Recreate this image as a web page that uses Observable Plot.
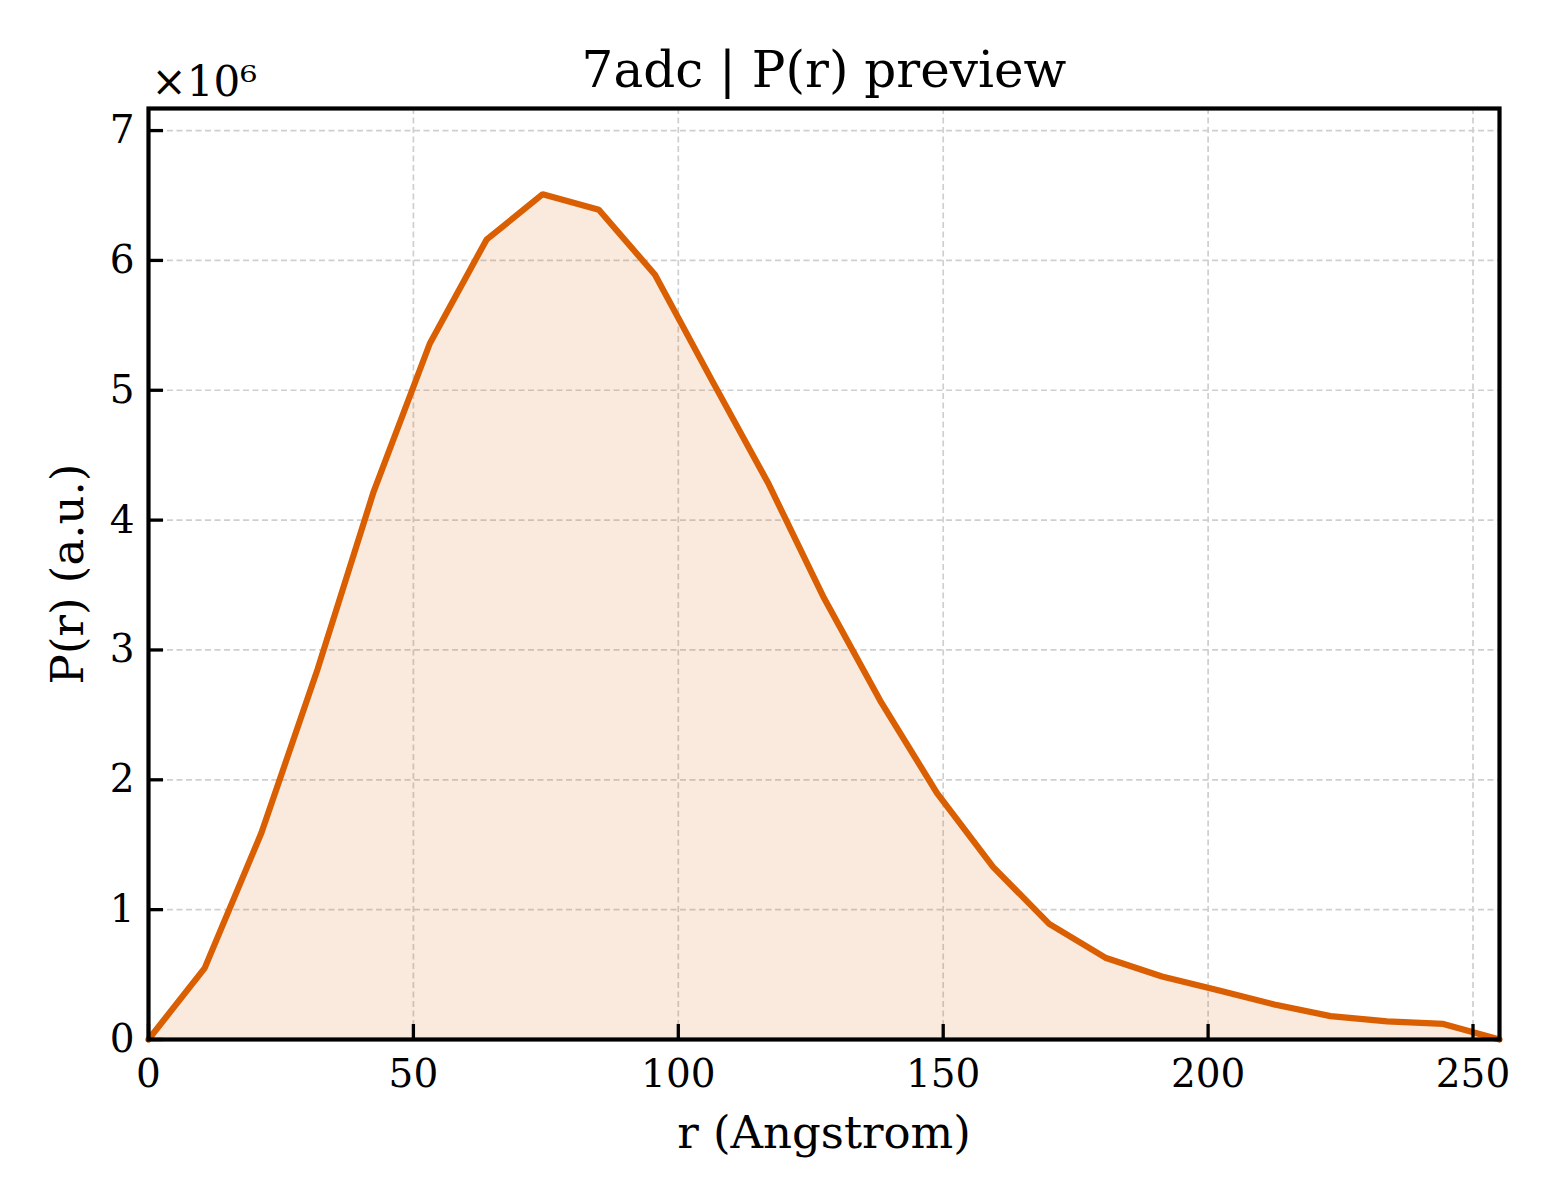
<!DOCTYPE html>
<html>
<head>
<meta charset="utf-8">
<script src="https://cdn.jsdelivr.net/npm/d3@7"></script>
<script src="https://cdn.jsdelivr.net/npm/@observablehq/plot@0.6"></script>
<style>
  html, body { margin: 0; padding: 0; background: #fff; }
  #chart svg { display: block; }
</style>
</head>
<body>
<div id="chart"></div>
<script>
// r (Angstrom)
const rValues = [0, 10.6, 21.3, 31.9, 42.5, 53.1, 63.8, 74.4, 85.0, 95.6, 106.3, 116.9, 127.5,
  138.1, 148.8, 159.4, 170.0, 180.6, 191.3, 201.9, 212.5, 223.1, 233.8, 244.4, 255.0];
// P(r) in units of 1e6 (a.u.)
const prMillions = [0, 0.55, 1.59, 2.85, 4.22, 5.36, 6.16, 6.51, 6.39, 5.89, 5.08, 4.29, 3.40,
  2.61, 1.90, 1.33, 0.89, 0.63, 0.485, 0.38, 0.27, 0.18, 0.14, 0.12, 0];
const xTicks = [0, 50, 100, 150, 200, 250];
const yTicks = [0, 1, 2, 3, 4, 5, 6, 7];
const titleText = "7adc | P(r) preview";
const xLabel = "r (Angstrom)";
const yLabel = "P(r) (a.u.)";
const offsetText = "×10⁶";

const data = rValues.map((r, i) => ({r, p: prMillions[i]}));

const W = 1560, H = 1200;
const mL = 148, mR = 61, mT = 108, mB = 161;
const frameW = W - mL - mR, frameH = H - mT - mB;
const color = "#d95f02";
const tickLen = 15;

const chart = Plot.plot({
  width: W,
  height: H,
  marginLeft: mL,
  marginRight: mR,
  marginTop: mT,
  marginBottom: mB,
  style: {fontFamily: "'DejaVu Serif', serif", color: "#000", background: "#fff"},
  x: {domain: [0, 255]},
  y: {domain: [0, 7.17]},
  marks: [
    Plot.gridX(xTicks, {stroke: "#cfcfcf", strokeOpacity: 1, strokeWidth: 1.7, strokeDasharray: "6,3.5"}),
    Plot.gridY(yTicks, {stroke: "#cfcfcf", strokeOpacity: 1, strokeWidth: 1.7, strokeDasharray: "6,3.5"}),
    Plot.areaY(data, {x: "r", y: "p", fill: color, fillOpacity: 0.13}),
    Plot.line(data, {x: "r", y: "p", stroke: color, strokeWidth: 6.2, strokeLinejoin: "miter"}),
    Plot.tickX(xTicks, {x: d => d, insetTop: frameH - tickLen, stroke: "#000", strokeWidth: 3.3}),
    Plot.tickY(yTicks, {y: d => d, insetRight: frameW - tickLen, stroke: "#000", strokeWidth: 3.3}),
    Plot.frame({stroke: "#000", strokeWidth: 4.2}),
    Plot.axisX(xTicks, {tickSize: 0, tickPadding: 20, fontSize: 39, label: null, tickFormat: d => String(d)}),
    Plot.axisY(yTicks, {tickSize: 0, tickPadding: 14, fontSize: 39, label: null, tickFormat: d => String(d)}),
    Plot.text([titleText], {text: d => d, frameAnchor: "top", lineAnchor: "bottom", dy: -22, fontSize: 50}),
    Plot.text([offsetText], {text: d => d, frameAnchor: "top-left", textAnchor: "start", lineAnchor: "bottom", dx: 3, dy: -13, fontSize: 42}),
    Plot.text([xLabel], {text: d => d, frameAnchor: "bottom", lineAnchor: "middle", dy: 94, fontSize: 45}),
    Plot.text([yLabel], {text: d => d, frameAnchor: "top-left", lineAnchor: "middle", textAnchor: "middle", rotate: -90, dx: -80, dy: frameH / 2, fontSize: 45})
  ]
});
document.getElementById("chart").appendChild(chart);
</script>
</body>
</html>
